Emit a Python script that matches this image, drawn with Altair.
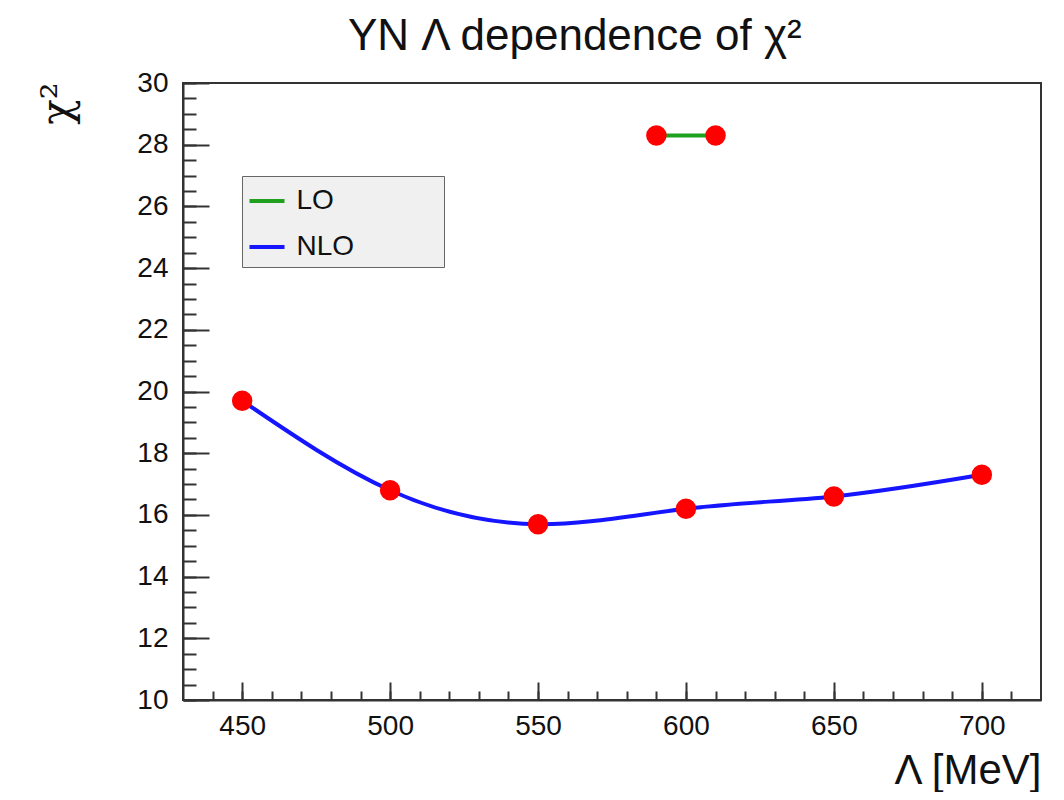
import altair as alt
import pandas as pd

# ---- data ----
lam_nlo = [450, 500, 550, 600, 650, 700]
chi2_nlo = [19.7, 16.8, 15.7, 16.2, 16.6, 17.3]
lam_lo = [590, 610]
chi2_lo = [28.3, 28.3]

x_major = [450, 500, 550, 600, 650, 700]
x_minor = [440, 450, 460, 470, 480, 490, 500, 510, 520, 530, 540, 550, 560, 570,
           580, 590, 600, 610, 620, 630, 640, 650, 660, 670, 680, 690, 700, 710]
y_major = [10, 12, 14, 16, 18, 20, 22, 24, 26, 28, 30]
y_minor = [10 + 0.5 * i for i in range(41)]

series_names = ["LO", "NLO"]
series_colors = ["#1fa01f", "#1515ff"]

FONT = "Liberation Sans"
INK = "#111111"
AXC = "#333333"

nlo = pd.DataFrame({"lam": lam_nlo, "chi2": chi2_nlo, "series": "NLO"})
lo = pd.DataFrame({"lam": lam_lo, "chi2": chi2_lo, "series": "LO"})

xs = alt.Scale(domain=[430, 720], nice=False, zero=False)
ys = alt.Scale(domain=[10, 30], nice=False, zero=False)

pad_blank = "\u2800" * 4
legend = alt.Legend(
    orient="none", legendX=59, legendY=93, title=None,
    fillColor="#f0f0f0", strokeColor="#666666", padding=5.5,
    labelFont=FONT, labelFontSize=28, labelColor=INK, labelLimit=500,
    labelExpr="datum.label + '" + pad_blank + "'",
    symbolType="stroke", symbolSize=1225, symbolStrokeWidth=4,
    rowPadding=12, labelOffset=10,
)
color = alt.Color("series:N", scale=alt.Scale(domain=series_names, range=series_colors),
                  legend=legend)

# main axes: labels, domain, titles
x_main = alt.Axis(values=x_major, orient="bottom", ticks=False, grid=False,
                  labelFont=FONT, labelFontSize=28, labelColor=INK, labelPadding=12,
                  domainColor=AXC, domainWidth=2,
                  title="Λ [MeV]", titleFont=FONT, titleFontSize=42, titleFontWeight="normal",
                  titleColor=INK, titleX=858, titleY=83, titleAlign="right",
                  titleBaseline="alphabetic", titleAngle=0)
y_main = alt.Axis(values=y_major, orient="left", ticks=False, grid=False,
                  labelFont=FONT, labelFontSize=28, labelColor=INK, labelPadding=15,
                  domainColor=AXC, domainWidth=2,
                  title="χ²", titleFont="DejaVu Serif", titleFontSize=42,
                  titleFontWeight="normal",
                  titleColor=INK, titleX=-126, titleY=20, titleAlign="center",
                  titleBaseline="middle", titleAngle=270)
# inward major ticks
x_maj = alt.Axis(values=x_major, orient="bottom", offset=-18, tickSize=18, tickWidth=2,
                 tickColor=AXC, labels=False, domain=False, grid=False, title=None)
y_maj = alt.Axis(values=y_major, orient="left", offset=-26, tickSize=26, tickWidth=2,
                 tickColor=AXC, labels=False, domain=False, grid=False, title=None)
# inward minor ticks
x_min = alt.Axis(values=x_minor, orient="bottom", offset=-9, tickSize=9, tickWidth=2,
                 tickColor=AXC, labels=False, domain=False, grid=False, title=None)
y_min = alt.Axis(values=y_minor, orient="left", offset=-13, tickSize=13, tickWidth=2,
                 tickColor=AXC, labels=False, domain=False, grid=False, title=None)

nlo_line = alt.Chart(nlo).mark_line(interpolate="natural", strokeWidth=4).encode(
    x=alt.X("lam:Q", scale=xs, axis=x_main),
    y=alt.Y("chi2:Q", scale=ys, axis=y_main),
    color=color,
)
lo_line = alt.Chart(lo).mark_line(strokeWidth=4).encode(
    x=alt.X("lam:Q", scale=xs, axis=x_maj),
    y=alt.Y("chi2:Q", scale=ys, axis=y_maj),
    color=color,
)
nlo_pts = alt.Chart(nlo).mark_circle(size=420, color="#ff0000", opacity=1).encode(
    x=alt.X("lam:Q", scale=xs, axis=x_min),
    y=alt.Y("chi2:Q", scale=ys, axis=y_min),
)
lo_pts = alt.Chart(lo).mark_circle(size=420, color="#ff0000", opacity=1).encode(
    x=alt.X("lam:Q", scale=xs, axis=None),
    y=alt.Y("chi2:Q", scale=ys, axis=None),
)

chart = alt.layer(nlo_line, lo_line, nlo_pts, lo_pts).resolve_axis(
    x="independent", y="independent"
).properties(
    width=858, height=617,
    autosize=alt.AutoSizeParams(type="none"),
    padding={"left": 175, "top": 75, "right": 15, "bottom": 92},
    title=alt.TitleParams("YN Λ dependence of χ²", anchor="start", frame="group", dx=165,
                          font=FONT, fontSize=44, fontWeight="normal", color=INK,
                          offset=10),
    background="white",
).configure_view(stroke=AXC, strokeWidth=2)

chart.save("out.html", embed_options={"renderer": "svg", "actions": False})
